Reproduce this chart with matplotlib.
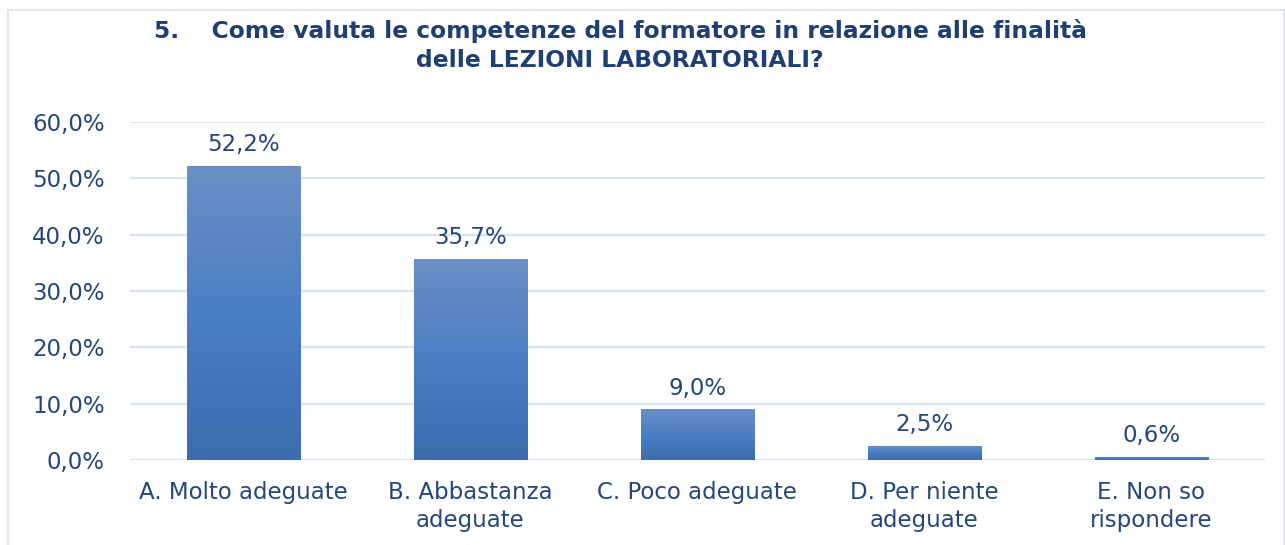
import numpy as np
import matplotlib
matplotlib.use("Agg")
from matplotlib import pyplot as plt
from matplotlib.patches import Rectangle
from matplotlib.colors import LinearSegmentedColormap

categories = ["A. Molto adeguate", "B. Abbastanza\nadeguate", "C. Poco adeguate",
              "D. Per niente\nadeguate", "E. Non so\nrispondere"]
values = [52.2, 35.7, 9.0, 2.5, 0.6]
y_ticks = [0, 10, 20, 30, 40, 50, 60]
title = ("5.    Come valuta le competenze del formatore in relazione alle finalità\n"
         "delle LEZIONI LABORATORIALI?")

text_color = "#24467A"
grid_color = "#D6E2F2"

fig = plt.figure(figsize=(12.85, 5.45), dpi=100)
ax = fig.add_axes([0.101, 0.156, 0.8834, 0.62])

x = np.arange(len(categories))
bars = ax.bar(x, values, width=0.5, color="none", zorder=3)

# vertical gradient per bar (lighter at top)
cmap = LinearSegmentedColormap.from_list("bar", ["#3B6CAE", "#4A7FC3", "#6B8FC5"])
grad = np.linspace(0, 1, 256).reshape(-1, 1)
for b in bars:
    x0, w, h = b.get_x(), b.get_width(), b.get_height()
    im = ax.imshow(grad, cmap=cmap, origin="lower", aspect="auto",
                   extent=(x0, x0 + w, 0, h), zorder=3)
    im.set_clip_path(b)

for xi, v in zip(x, values):
    ax.annotate(f"{v:.1f}%".replace(".", ","), (xi, v), xytext=(0, 7),
                textcoords="offset points", ha="center", va="bottom",
                fontsize=16.5, color=text_color, zorder=4)

ax.set_xlim(-0.5, len(categories) - 0.5)
ax.set_ylim(0, 60)
ax.set_yticks(y_ticks)
ax.set_yticklabels([f"{t:.1f}%".replace(".", ",") for t in y_ticks])
ax.set_xticks(x)
ax.set_xticklabels(categories, linespacing=1.27)
ax.tick_params(axis="both", length=0, labelsize=16.5, labelcolor=text_color)
ax.tick_params(axis="y", pad=18)
ax.tick_params(axis="x", pad=15)
ax.grid(axis="y", color=grid_color, linewidth=1.6, zorder=0)
for s in ax.spines.values():
    s.set_visible(False)

fig.text(0.4825, 0.917, title, ha="center", va="center", fontsize=16.8,
         fontweight="bold", color="#1F3E72", linespacing=1.32)

fig.patches.append(Rectangle((8 / 1285, -0.01), 1276 / 1285, 1 - 10 / 545 + 0.01,
                             transform=fig.transFigure, fill=False,
                             edgecolor="#D9E2EF", linewidth=1.2))

fig.savefig("out.png", dpi=100)
